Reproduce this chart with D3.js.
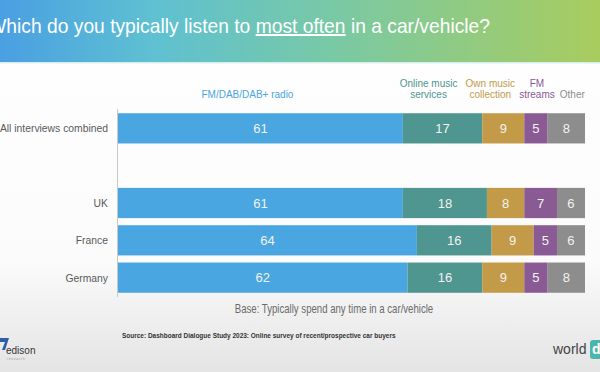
<!DOCTYPE html>
<html>
<head>
<meta charset="utf-8">
<script src="https://cdn.jsdelivr.net/npm/d3@7"></script>
<style>
  body { margin: 0; background: #fff; }
  svg { display: block; font-family: "Liberation Sans", Arial, sans-serif; }
</style>
</head>
<body>
<svg id="chart" width="600" height="372"></svg>
<script>
// categories (blank row keeps the gap under the combined bar)
const categories = ["All interviews combined", "", "UK", "France", "Germany"];
const seriesNames = ["FM/DAB/DAB+ radio", "Online music services", "Own music collection", "FM streams", "Other"];
const seriesLabelLines = [["FM/DAB/DAB+ radio"], ["Online music", "services"], ["Own music", "collection"], ["FM", "streams"], ["Other"]];
const seriesColors = ["#4aa6e0", "#4f9590", "#c39a48", "#895a93", "#8d8d8d"];
const legendShift = [-13, -14, -13, 1, 6];

const radio = [61, null, 61, 64, 62];
const online = [17, null, 18, 16, 16];
const ownMusic = [9, null, 8, 9, 9];
const fmStreams = [5, null, 7, 5, 5];
const other = [8, null, 6, 6, 8];

const rows = categories.map((c, i) => ({
    cat: c,
    values: [radio[i], online[i], ownMusic[i], fmStreams[i], other[i]]
}));

const svg = d3.select("#chart");
const W = 600, H = 372;

// the slide is squeezed sideways, so texts are narrowed round their anchor
function squeeze(sel, k) {
    sel.each(function () {
        const t = d3.select(this);
        const ax = +t.attr("x"), ay = +t.attr("y") || 0;
        t.attr("transform", `translate(${ax},${ay}) scale(${k},1) translate(${-ax},${-ay})`);
    });
}
function fitWidth(sel, width) {
    const w = sel.node().getBBox().width;
    squeeze(sel, width / w);
}

// background
const defs = svg.append("defs");
const bg = defs.append("linearGradient").attr("id", "bg").attr("x1", 0).attr("y1", 0).attr("x2", 0).attr("y2", 1);
bg.append("stop").attr("offset", "0%").attr("stop-color", "#ffffff");
bg.append("stop").attr("offset", "70%").attr("stop-color", "#fbfbfb");
bg.append("stop").attr("offset", "100%").attr("stop-color", "#e4e4e4");
svg.append("rect").attr("width", W).attr("height", H).attr("fill", "url(#bg)");

// title banner
const banner = defs.append("linearGradient").attr("id", "banner").attr("x1", 0).attr("y1", 0).attr("x2", 1).attr("y2", 0);
banner.append("stop").attr("offset", "0%").attr("stop-color", "#4a9fe2");
banner.append("stop").attr("offset", "25%").attr("stop-color", "#5ec0d2");
banner.append("stop").attr("offset", "55%").attr("stop-color", "#78c9a6");
banner.append("stop").attr("offset", "100%").attr("stop-color", "#a9cc5e");
svg.append("rect").attr("width", W).attr("height", 62).attr("fill", "url(#banner)");
svg.append("rect").attr("y", 62).attr("width", W).attr("height", 1.5).attr("fill", "#d8efee");

const title = svg.append("text")
    .attr("x", 490).attr("y", 33)
    .attr("text-anchor", "end")
    .attr("fill", "#fff")
    .style("font-size", "20px");
title.append("tspan").text("Which do you typically listen to ");
title.append("tspan").text("most often").style("text-decoration", "underline");
title.append("tspan").text(" in a car/vehicle?");
fitWidth(title, 502);

// scales
const x = d3.scaleLinear().domain([0, 100]).range([118, 585]);
const y = d3.scaleBand().domain(categories.map((c, i) => i)).range([109.5, 296.5]).paddingInner(0.19).paddingOuter(0.1);

// axis line
svg.append("line")
    .attr("x1", 117.5).attr("x2", 117.5)
    .attr("y1", 109).attr("y2", 297)
    .attr("stroke", "#c8c8c8").attr("stroke-width", 1);

// category labels
const catLabels = svg.append("g").selectAll("text")
    .data(rows)
    .join("text")
    .attr("x", 108)
    .attr("y", (d, i) => y(i) + y.bandwidth() / 2 + 4)
    .attr("text-anchor", "end")
    .attr("fill", "#5a5a5a")
    .style("font-size", "11.5px")
    .text(d => d.cat);
squeeze(catLabels, 0.9);

// bars
const segs = [];
rows.forEach((r, i) => {
    let acc = 0;
    r.values.forEach((v, k) => {
        if (v == null) return;
        segs.push({ row: i, k: k, x0: acc, x1: acc + v, v: v });
        acc += v;
    });
});

const barG = svg.append("g");
barG.selectAll("rect")
    .data(segs)
    .join("rect")
    .attr("x", d => x(d.x0))
    .attr("y", d => y(d.row))
    .attr("width", d => x(d.x1) - x(d.x0))
    .attr("height", y.bandwidth())
    .attr("fill", d => seriesColors[d.k]);

barG.selectAll("text")
    .data(segs)
    .join("text")
    .attr("x", d => (x(d.x0) + x(d.x1)) / 2)
    .attr("y", d => y(d.row) + y.bandwidth() / 2 + 4.5)
    .attr("text-anchor", "middle")
    .attr("fill", "#f2f2f2")
    .style("font-size", "13px")
    .text(d => d.v);

// series labels above the combined bar
const first = segs.filter(d => d.row === 0);
const legG = svg.append("g");
first.forEach(d => {
    const lines = seriesLabelLines[d.k];
    const cx = (x(d.x0) + x(d.x1)) / 2 + legendShift[d.k];
    const t = legG.append("text")
        .attr("x", cx)
        .attr("text-anchor", "middle")
        .attr("fill", seriesColors[d.k])
        .style("font-size", "10px");
    lines.forEach((ln, j) => {
        t.append("tspan")
            .attr("x", cx)
            .attr("y", 97.5 - (lines.length - 1 - j) * 11)
            .text(ln);
    });
});

// base note
const base = svg.append("text")
    .attr("x", 334).attr("y", 313)
    .attr("text-anchor", "middle")
    .attr("fill", "#6b6b6b")
    .style("font-size", "12px")
    .text("Base: Typically spend any time in a car/vehicle");
fitWidth(base, 199);

// source
const source = svg.append("text")
    .attr("x", 122).attr("y", 338.5)
    .attr("fill", "#333")
    .style("font-size", "7.5px")
    .style("font-weight", "bold")
    .text("Source: Dashboard Dialogue Study 2023: Online survey of recent/prospective car buyers");
fitWidth(source, 274);

// logos
svg.append("path")
    .attr("d", "M0,338 L9,338 L5,350 L2,350 L5,342 L0,342 Z")
    .attr("fill", "#2c5da8");
svg.append("text")
    .attr("x", 6).attr("y", 354)
    .attr("fill", "#333")
    .style("font-size", "10px")
    .text("edison");
svg.append("text")
    .attr("x", 7).attr("y", 360)
    .attr("fill", "#999")
    .style("font-size", "3.5px")
    .style("letter-spacing", "0.6px")
    .text("research");

svg.append("text")
    .attr("x", 553).attr("y", 354)
    .attr("fill", "#444")
    .style("font-size", "14px")
    .text("world");
svg.append("rect")
    .attr("x", 590).attr("y", 340)
    .attr("width", 16).attr("height", 19).attr("rx", 3)
    .attr("fill", "#4db6ac");
svg.append("text")
    .attr("x", 592).attr("y", 354)
    .attr("fill", "#fff")
    .style("font-size", "14px")
    .style("font-weight", "bold")
    .text("d");
</script>
</body>
</html>
